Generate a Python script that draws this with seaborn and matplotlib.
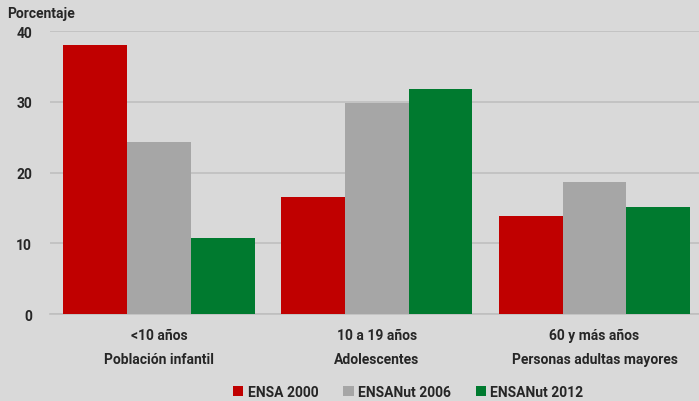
import pandas as pd
import numpy as np
import matplotlib.pyplot as plt
import seaborn as sns

grupos = ['<10 años\nPoblación infantil', '10 a 19 años\nAdolescentes', '60 y más años\nPersonas adultas mayores']
encuestas = ['ENSA 2000', 'ENSANut 2006', 'ENSANut 2012']
ensa_2000 = [38.0, 16.6, 13.8]
ensanut_2006 = [24.3, 29.8, 18.7]
ensanut_2012 = [10.7, 31.8, 15.2]
colores = ['#c00000', '#a6a6a6', '#007a2f']

data = pd.DataFrame({
    'grupo': grupos * 3,
    'encuesta': [e for e in encuestas for _ in grupos],
    'valor': ensa_2000 + ensanut_2006 + ensanut_2012,
})

sns.set_style('white')
plt.rcParams['font.family'] = ['Roboto', 'DejaVu Sans']
plt.rcParams['font.weight'] = 'bold'

fig = plt.figure(figsize=(6.99, 4.02), dpi=100, facecolor='#d9d9d9')
ax = fig.add_axes([0.0715, 0.2164, 0.9285, 0.7036])
ax.set_facecolor('#d9d9d9')

sns.barplot(data=data, x='grupo', y='valor', hue='encuesta', palette=colores,
            width=0.88, saturation=1, ax=ax, zorder=3, linewidth=0)

ax.set_ylim(0, 40)
ax.set_xlim(-0.5, 2.48)
ax.set_yticks([0, 10, 20, 30, 40])
ax.yaxis.grid(True, color='#bfbfbf', linewidth=1.2, zorder=0)
ax.set_axisbelow(True)
for s in ['top', 'right', 'left']:
    ax.spines[s].set_visible(False)
ax.spines['bottom'].set_color('#bfbfbf')
ax.spines['bottom'].set_linewidth(1.2)
ax.tick_params(axis='both', length=0, labelsize=10)
ax.tick_params(axis='y', pad=13)
ax.tick_params(axis='x', pad=10)
for lbl in ax.get_xticklabels():
    lbl.set_linespacing(1.9)
    lbl.set_fontweight('bold')
for lbl in ax.get_yticklabels():
    lbl.set_fontweight('bold')
ax.set_xlabel('')
ax.set_ylabel('')

fig.text(0.01, 0.965, 'Porcentaje', fontsize=10, fontweight='bold', va='center', ha='left')

ax.legend(loc='lower center', bbox_to_anchor=(0.552, -0.345), ncol=3, frameon=False,
          handlelength=0.75, handleheight=0.75, handletextpad=0.3, columnspacing=1.8,
          prop={'weight': 'bold', 'size': 10})

fig.savefig('out.png', dpi=100, facecolor='#d9d9d9')
